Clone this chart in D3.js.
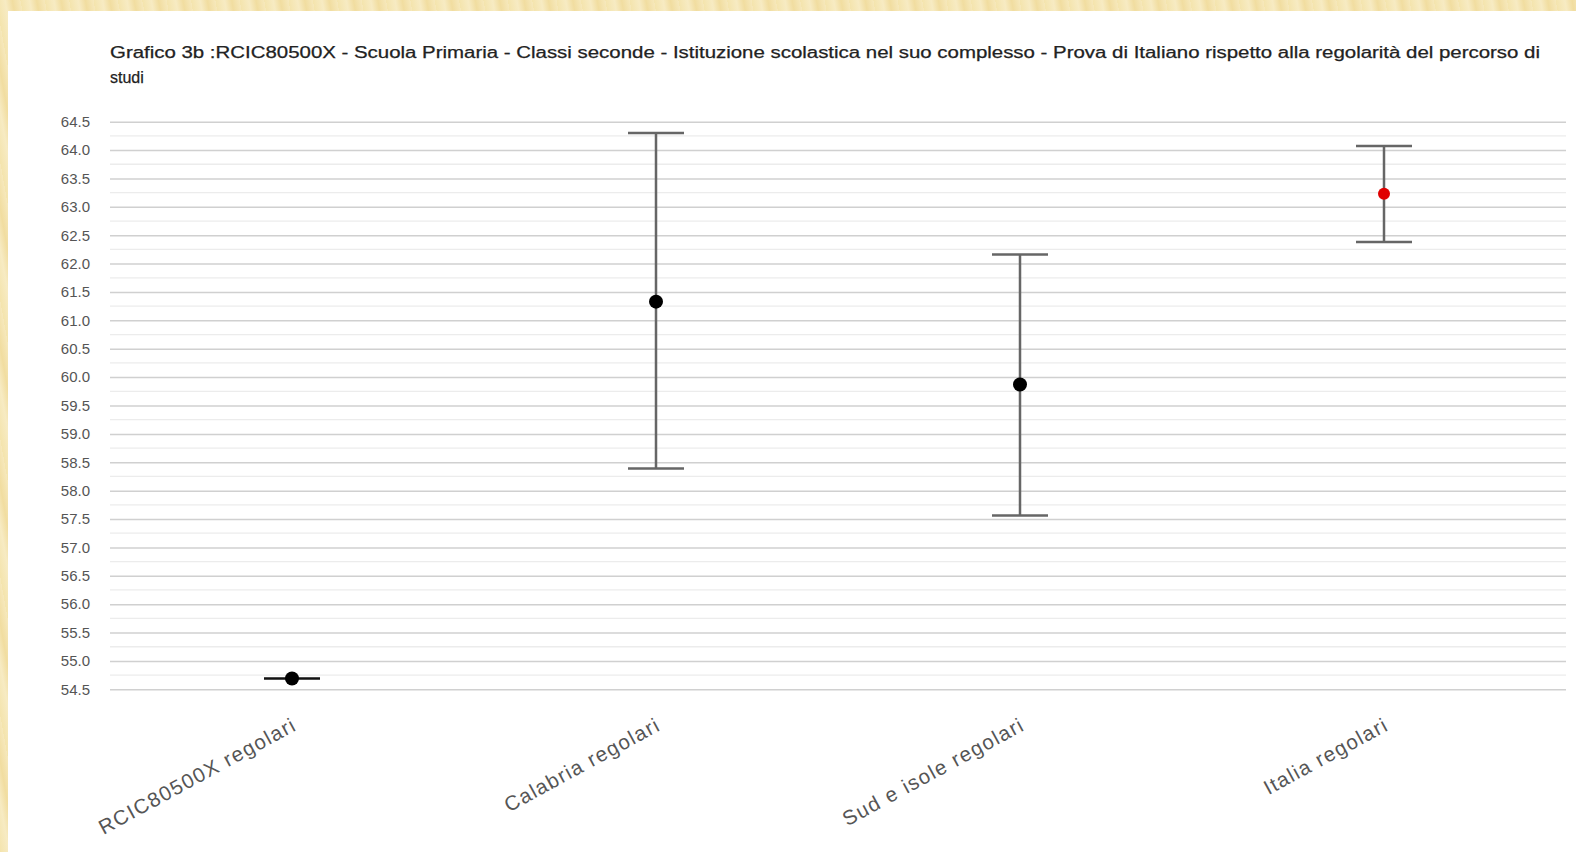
<!DOCTYPE html>
<html>
<head>
<meta charset="utf-8">
<script src="https://cdn.jsdelivr.net/npm/d3@7"></script>
<style>
html,body{margin:0;padding:0;}
body{width:1576px;height:852px;overflow:hidden;
 background: repeating-linear-gradient(80deg,#f4e4ad 0px,#f7ebc3 9px,#f1dda0 16px,#f6e8bb 24px);}
</style>
</head>
<body>
<svg id="chart" width="1576" height="852"></svg>
<script>
const categories = ["RCIC80500X regolari","Calabria regolari","Sud e isole regolari","Italia regolari"];
const means = [54.69, 61.33, 59.87, 63.23];
const lows  = [54.69, 58.39, 57.56, 62.38];
const highs = [54.69, 64.30, 62.16, 64.07];
const pointColors = ["#000000","#000000","#000000","#e00000"];
const yTicks = [54.5,55.0,55.5,56.0,56.5,57.0,57.5,58.0,58.5,59.0,59.5,60.0,60.5,61.0,61.5,62.0,62.5,63.0,63.5,64.0,64.5];
const titleLines = ["Grafico 3b :RCIC80500X - Scuola Primaria - Classi seconde - Istituzione scolastica nel suo complesso - Prova di Italiano rispetto alla regolarità del percorso di","studi"];

const svg = d3.select("#chart");
svg.append("rect").attr("x",8).attr("y",11).attr("width",1568).attr("height",841).attr("fill","#fff");

const pLeft = 110, pRight = 1566, pTop = 121.7, pBottom = 689.3;
const x = d3.scaleBand().domain(categories).range([pLeft,pRight]);
const y = d3.scaleLinear().domain([54.5,64.5]).range([pBottom,pTop]);

// minor gridlines
const minor = d3.range(54.75,64.5,0.5);
svg.append("g").selectAll("line").data(minor).join("line")
  .attr("x1",pLeft).attr("x2",pRight).attr("y1",d=>y(d)).attr("y2",d=>y(d))
  .attr("stroke","#ececec").attr("stroke-width",1.3);
// major gridlines via axis
const yAxis = d3.axisLeft(y).tickValues(yTicks).tickFormat(d3.format(".1f")).tickSize(-(pRight-pLeft)).tickPadding(20);
const ga = svg.append("g").attr("transform",`translate(${pLeft},0)`).call(yAxis);
ga.select(".domain").remove();
ga.selectAll(".tick line").attr("stroke","#d0d0d0").attr("stroke-width",1.5);
ga.selectAll(".tick text").attr("fill","#555").style("font-family","Liberation Sans, Arial, sans-serif").style("font-size","15px");

// x axis labels
const xAxis = d3.axisBottom(x).tickSize(0).tickPadding(0);
const gx = svg.append("g").attr("transform",`translate(0,${pBottom})`).call(xAxis);
gx.select(".domain").remove();
gx.selectAll(".tick text")
  .attr("text-anchor","end")
  .attr("transform","translate(6,40) rotate(-28.5)")
  .attr("dy","0")
  .attr("fill","#555")
  .style("letter-spacing","1.4px")
  .style("font-family","Liberation Sans, Arial, sans-serif").style("font-size","20.5px");

// error bars
const capHalf = 28;
const eb = svg.append("g");
categories.forEach((c,i)=>{
  const cx = x(c)+x.bandwidth()/2;
  const isZero = highs[i]===lows[i];
  if(!isZero){
    eb.append("line").attr("x1",cx).attr("x2",cx).attr("y1",y(highs[i])).attr("y2",y(lows[i]))
      .attr("stroke","#666").attr("stroke-width",2.5);
  }
  [highs[i],lows[i]].forEach(v=>{
    eb.append("line").attr("x1",cx-capHalf).attr("x2",cx+capHalf).attr("y1",y(v)).attr("y2",y(v))
      .attr("stroke",isZero?"#111":"#666").attr("stroke-width",isZero?2:2.5);
  });
});
svg.append("g").selectAll("circle").data(categories).join("circle")
  .attr("cx",d=>x(d)+x.bandwidth()/2).attr("cy",(d,i)=>y(means[i]))
  .attr("r",(d,i)=>i===3?6:7).attr("fill",(d,i)=>pointColors[i]);

// title
const t = svg.append("text").attr("x",110).attr("y",58)
  .attr("fill","#222").style("font-family","Liberation Sans, Arial, sans-serif")
  .style("font-size","16px").style("font-weight","normal").attr("stroke","#222").attr("stroke-width",0.25);
titleLines.forEach((l,i)=>{
  const ts = t.append("tspan").attr("x",110).attr("y",58+i*25).text(l);
  if(i===0) ts.attr("textLength",1430).attr("lengthAdjust","spacingAndGlyphs");
});
</script>
</body>
</html>
